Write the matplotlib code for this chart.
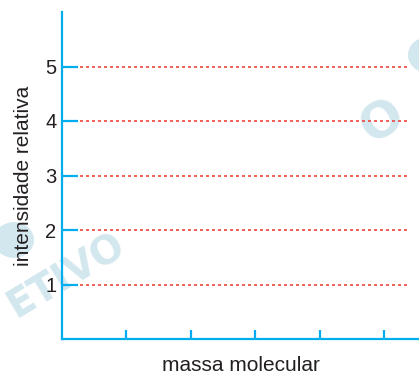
import matplotlib
matplotlib.use("Agg")
import matplotlib.pyplot as plt
from matplotlib.patches import Circle

plt.rcParams['font.family'] = ['Liberation Sans', 'DejaVu Sans']

# y levels with dotted guide lines, x tick positions
levels = [1, 2, 3, 4, 5]
x_ticks = [1, 2, 3, 4, 5]
x_label = 'massa molecular'
y_label = 'intensidade relativa'

axis_color = '#00aeef'
text_color = '#231f20'
guide_color = '#f0453a'
wm_color = '#d3e7ef'

W, H = 419, 376
fig = plt.figure(figsize=(W / 100, H / 100), dpi=100)

# faint watermark pieces behind the axes (pixel positions from top-left)
wm = dict(color=wm_color, fontweight='bold', rotation=31,
          ha='center', va='center', zorder=-1, family='DejaVu Sans')
fig.text(66 / W, 1 - 276 / H, 'ETIVO', fontsize=28, **wm)
fig.text(382 / W, 1 - 122 / H, 'O', fontsize=36, **wm)
for cx, cy, r in [(14, 240, 20), (428, 55, 20)]:
    fig.patches.append(Circle((cx / W, 1 - cy / H), r / W, transform=fig.transFigure,
                              facecolor=wm_color, edgecolor='none', zorder=-1))

ax = fig.add_axes([62 / W, 37 / H, 357 / W, 327 / H])
ax.patch.set_alpha(0)
ax.set_xlim(0, 5.535)
ax.set_ylim(0, 6)

ax.hlines(levels, 0.28, 5.4, colors=guide_color, linestyles=(0, (1.8, 1.8)),
          linewidth=1.2)

for side in ['top', 'right']:
    ax.spines[side].set_visible(False)
for side in ['left', 'bottom']:
    ax.spines[side].set_color(axis_color)
    ax.spines[side].set_linewidth(1.6)

ax.set_yticks(levels)
ax.set_yticklabels([str(v) for v in levels])
ax.set_xticks(x_ticks)
ax.set_xticklabels([])
ax.tick_params(axis='y', direction='in', length=11.5, width=1.6, color=axis_color,
               labelsize=14.5, labelcolor=text_color, pad=4)
ax.tick_params(axis='x', direction='in', length=6.5, width=1.6, color=axis_color)

ax.set_xlabel(x_label, fontsize=15, color=text_color, labelpad=9)
ax.set_ylabel(y_label, fontsize=15, color=text_color, labelpad=9)

fig.savefig('out.png', dpi=100)
